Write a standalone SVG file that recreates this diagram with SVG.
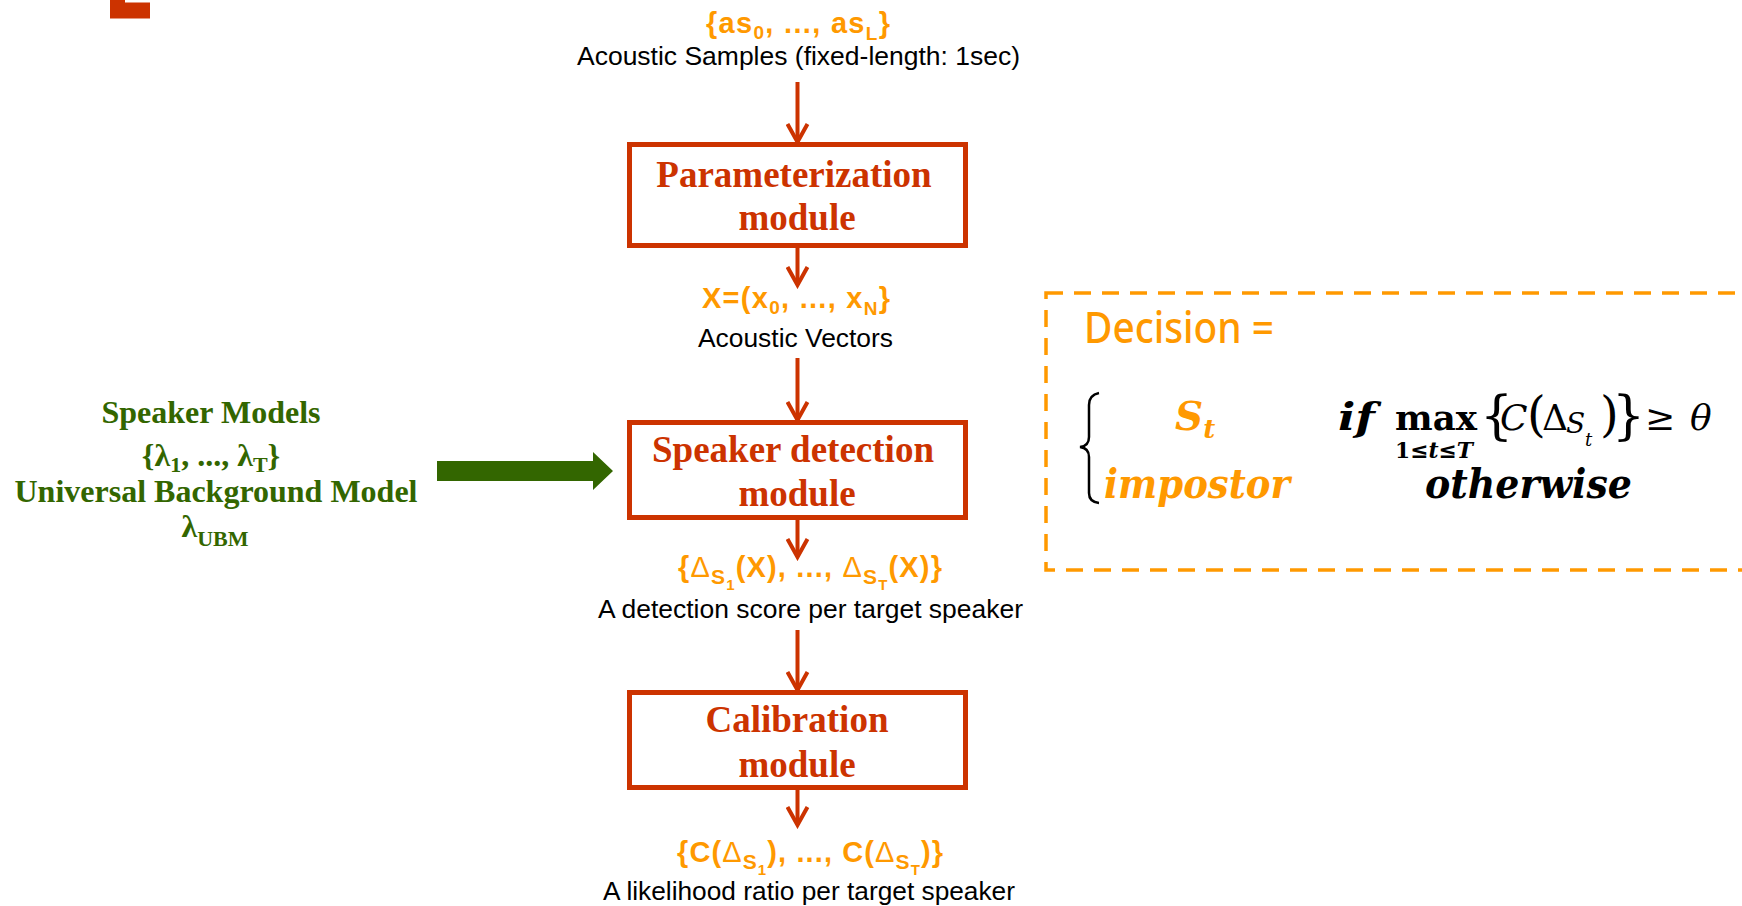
<svg xmlns="http://www.w3.org/2000/svg" width="1742" height="906" viewBox="0 0 1742 906">
<defs>
<style>
.box{fill:none;stroke:#CC3300;stroke-width:5}
.btxt{font-family:"Liberation Serif","Times New Roman",serif;font-weight:bold;font-size:37px;fill:#CC3300;text-anchor:middle}
.otxt{font-family:"Liberation Sans",Arial,sans-serif;font-weight:bold;font-size:29px;fill:#FF9900}
.ktxt{font-family:"Liberation Sans",Arial,sans-serif;font-size:26px;fill:#000}
.gtxt{font-family:"Liberation Serif","Times New Roman",serif;font-weight:bold;font-size:32px;fill:#336600;text-anchor:middle}
.conn{stroke:#CC3300;stroke-width:4;fill:none;marker-end:url(#ah)}
.math{font-family:"DejaVu Serif",serif}
.delta{font-weight:normal}
</style>
<marker id="ah" viewBox="0 0 24 24" refX="20" refY="12" markerWidth="24" markerHeight="24" markerUnits="userSpaceOnUse" orient="auto">
<path d="M2,2 L20,12 L2,22" fill="none" stroke="#CC3300" stroke-width="4"/>
</marker>
</defs>
<rect width="1742" height="906" fill="#fff"/>
<path d="M110,0 H125 V2.5 H150 V18.5 H110 Z" fill="#CC3300"/>

<g id="input">
<text class="otxt" x="706" y="33" textLength="184" lengthAdjust="spacing">{as<tspan font-size="19" dy="6">0</tspan><tspan dy="-6">, ..., as</tspan><tspan font-size="19" dy="7">L</tspan><tspan dy="-7">}</tspan></text>
<text class="ktxt" x="577" y="65" textLength="443" lengthAdjust="spacingAndGlyphs">Acoustic Samples (fixed-length: 1sec)</text>
</g>

<g id="param">
<rect class="box" x="629.5" y="144.5" width="336" height="101"/>
<text class="btxt" x="794" y="187">Parameterization</text>
<text class="btxt" x="797" y="230">module</text>
</g>

<g id="vectors">
<text class="otxt" x="702" y="308" textLength="188" lengthAdjust="spacing">X=(x<tspan font-size="19" dy="6">0</tspan><tspan dy="-6">, ..., x</tspan><tspan font-size="19" dy="7">N</tspan><tspan dy="-7">}</tspan></text>
<text class="ktxt" x="698" y="347" textLength="195" lengthAdjust="spacingAndGlyphs">Acoustic Vectors</text>
</g>

<g id="models">
<text class="gtxt" x="211" y="423">Speaker Models</text>
<text class="gtxt" x="211" y="466">{λ<tspan font-size="22" dy="6">1</tspan><tspan dy="-6">, ..., λ</tspan><tspan font-size="22" dy="6">T</tspan><tspan dy="-6">}</tspan></text>
<text class="gtxt" x="216" y="502">Universal Background Model</text>
<text class="gtxt" x="215" y="537">λ<tspan font-size="22" dy="9">UBM</tspan></text>
</g>

<g id="detect">
<rect class="box" x="629.5" y="422.5" width="336" height="95"/>
<text class="btxt" x="793" y="462">Speaker detection</text>
<text class="btxt" x="797" y="506">module</text>
</g>

<g id="scores">
<text class="otxt" x="678" y="577" textLength="264" lengthAdjust="spacing">{<tspan class="delta">Δ</tspan><tspan font-size="21" dy="7">S</tspan><tspan font-size="15" dy="6">1</tspan><tspan dy="-13">(X), ..., </tspan><tspan class="delta">Δ</tspan><tspan font-size="21" dy="7">S</tspan><tspan font-size="15" dy="6">T</tspan><tspan dy="-13">(X)}</tspan></text>
<text class="ktxt" x="598" y="618" textLength="425" lengthAdjust="spacingAndGlyphs">A detection score per target speaker</text>
</g>

<g id="calib">
<rect class="box" x="629.5" y="692.5" width="336" height="95"/>
<text class="btxt" x="797" y="732">Calibration</text>
<text class="btxt" x="797" y="777">module</text>
</g>

<g id="ratios">
<text class="otxt" x="677" y="862" textLength="266" lengthAdjust="spacing">{C(<tspan class="delta">Δ</tspan><tspan font-size="21" dy="7">S</tspan><tspan font-size="15" dy="6">1</tspan><tspan dy="-13">), ..., C(</tspan><tspan class="delta">Δ</tspan><tspan font-size="21" dy="7">S</tspan><tspan font-size="15" dy="6">T</tspan><tspan dy="-13">)}</tspan></text>
<text class="ktxt" x="603" y="900" textLength="412" lengthAdjust="spacingAndGlyphs">A likelihood ratio per target speaker</text>
</g>

<g id="decision">
<rect x="1046" y="293" width="720" height="277" fill="none" stroke="#FF9900" stroke-width="3.5" stroke-dasharray="17 11"/>
<text x="1084" y="343" font-family="'Liberation Sans Narrow','Noto Sans',sans-serif" font-size="43" font-weight="500" fill="#FF9900" textLength="190" lengthAdjust="spacingAndGlyphs">Decision =</text>
<path d="M1099,393 Q1089,395 1089,405 L1089,437 Q1089,446 1080,447 Q1089,448 1089,457 L1089,493 Q1089,502 1099,503" fill="none" stroke="#000" stroke-width="2.5"/>
<text class="math" x="1175" y="430" font-size="39" font-style="italic" font-weight="bold" fill="#FF9900">S<tspan font-size="26" dy="8">t</tspan></text>
<text class="math" x="1104" y="498" font-size="41" font-style="italic" font-weight="bold" fill="#FF9900" textLength="186" lengthAdjust="spacingAndGlyphs">impostor</text>
<text class="math" x="1338" y="430" font-size="38" font-style="italic" font-weight="bold" fill="#000" textLength="37" lengthAdjust="spacingAndGlyphs">if</text>
<text class="math" x="1395" y="430" font-size="36" font-weight="bold" fill="#000" textLength="82" lengthAdjust="spacingAndGlyphs">max</text>
<text class="math" x="1395" y="458" font-size="22" font-weight="bold" fill="#000" textLength="78" lengthAdjust="spacingAndGlyphs">1≤<tspan font-style="italic">t</tspan>≤<tspan font-style="italic">T</tspan></text>
<text class="math" x="1480" y="433" font-size="52" fill="#000">{</text>
<text class="math" x="1500" y="430" font-size="36" font-style="italic" fill="#000">C</text>
<text class="math" x="1527" y="431" font-size="48" fill="#000">(</text>
<text class="math" x="1542" y="430" font-size="36" fill="#000">Δ</text>
<text class="math" x="1566" y="433" font-size="28" font-style="italic" fill="#000">S</text>
<text class="math" x="1585" y="446" font-size="18" font-style="italic" fill="#000">t</text>
<text class="math" x="1600" y="431" font-size="48" fill="#000">)</text>
<text class="math" x="1612" y="433" font-size="52" fill="#000">}</text>
<text class="math" x="1645" y="430" font-size="36" fill="#000">≥</text>
<text class="math" x="1690" y="430" font-size="36" font-style="italic" fill="#000">θ</text>
<text class="math" x="1425" y="498" font-size="41" font-style="italic" font-weight="bold" fill="#000" textLength="207" lengthAdjust="spacingAndGlyphs">otherwise</text>
</g>

<g id="connectors">
<line class="conn" x1="797.5" y1="82" x2="797.5" y2="142"/>
<line class="conn" x1="797.5" y1="248" x2="797.5" y2="285"/>
<line class="conn" x1="797.5" y1="358" x2="797.5" y2="420"/>
<line class="conn" x1="797.5" y1="520" x2="797.5" y2="557"/>
<line class="conn" x1="797.5" y1="630" x2="797.5" y2="690"/>
<line class="conn" x1="797.5" y1="790" x2="797.5" y2="825"/>
<polygon points="437,461 593,461 593,452 613,471 593,490 593,481 437,481" fill="#336600"/>
</g>
</svg>
